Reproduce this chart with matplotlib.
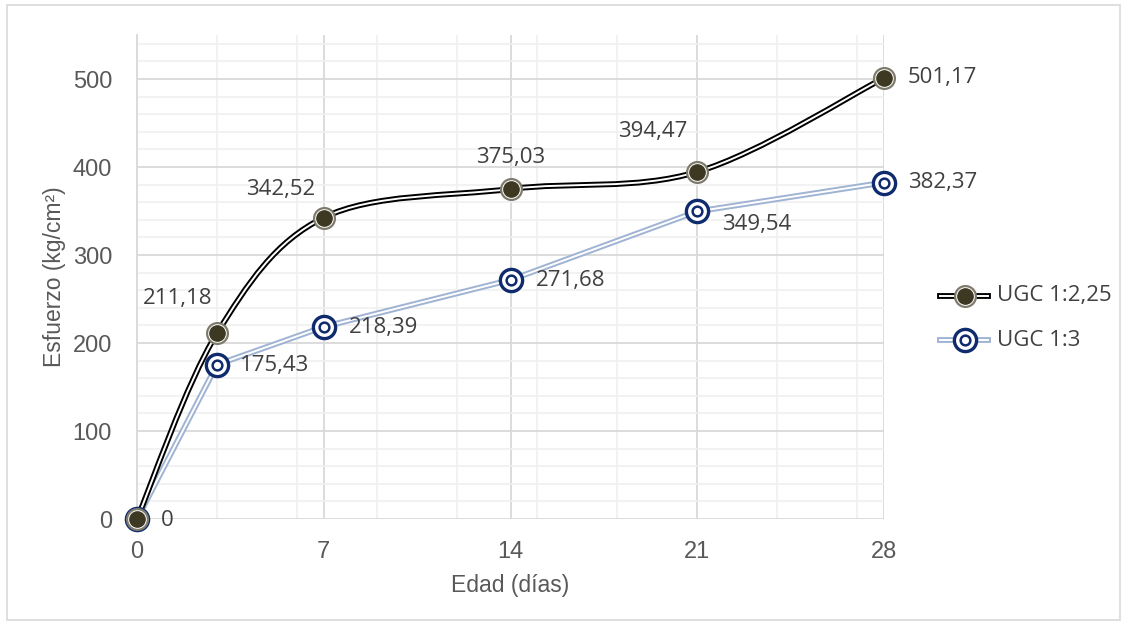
import numpy as np
import matplotlib.pyplot as plt
from matplotlib.path import Path
from matplotlib.patches import PathPatch, Rectangle

dias = [0, 3, 7, 14, 21, 28]
ugc_225 = [0, 211.18, 342.52, 375.03, 394.47, 501.17]
ugc_3 = [0, 175.43, 218.39, 271.68, 349.54, 382.37]
labels_225 = ["", "211,18", "342,52", "375,03", "394,47", "501,17"]
labels_3 = ["0", "175,43", "218,39", "271,68", "349,54", "382,37"]


def smooth_path(x, y):
    """Bezier path through the points, Excel-style smoothed line."""
    pts = np.column_stack([x, y]).astype(float)
    ext = np.vstack([pts[0], pts, pts[-1]])
    verts = [pts[0]]
    codes = [Path.MOVETO]
    for i in range(1, len(ext) - 2):
        p0, p1, p2, p3 = ext[i - 1], ext[i], ext[i + 1], ext[i + 2]
        c1 = p1 + (p2 - p0) / 6.0
        c2 = p2 - (p3 - p1) / 6.0
        verts += [c1, c2, p2]
        codes += [Path.CURVE4] * 3
    return Path(verts, codes)


plt.rcParams["font.family"] = ["Liberation Sans", "DejaVu Sans"]

fig = plt.figure(figsize=(11.28, 6.25), dpi=100)
fig.patches.append(Rectangle((7 / 1128, 5 / 625), 1 - 15 / 1128, 1 - 10 / 625,
                             transform=fig.transFigure, fill=False,
                             edgecolor="#d9d9d9", linewidth=1.2))
ax = fig.add_axes([137 / 1128, 1 - 519 / 625, 747 / 1128, 484 / 625])

ax.set_xlim(0, 28)
ax.set_ylim(0, 550)
ax.set_xticks([0, 7, 14, 21, 28])
ax.set_xticks(np.arange(0, 29, 3), minor=True)
ax.set_yticks(np.arange(0, 501, 100))
ax.set_yticks(np.arange(0, 551, 20), minor=True)
ax.grid(True, which="major", color="#d9d9d9", linewidth=1.3)
ax.grid(True, which="minor", color="#f0f0f0", linewidth=1.2)
ax.set_axisbelow(True)
for s in ["top", "right", "bottom"]:
    ax.spines[s].set_visible(False)
ax.spines["left"].set_color("#d9d9d9")
ax.spines["left"].set_linewidth(1.3)
ax.tick_params(which="both", length=0, labelsize=17, colors="#595959")
ax.tick_params(axis="y", pad=18)
ax.tick_params(axis="x", pad=16)

# UGC 1:3 - straight double blue line
ax.plot(dias, ugc_3, color="#9fb3d3", lw=4.2, zorder=3,
        solid_capstyle="round", clip_on=False)
ax.plot(dias, ugc_3, color="white", lw=1.4, zorder=3,
        solid_capstyle="round", clip_on=False)
ax.plot(dias, ugc_3, ls="none", marker="o", ms=16, mfc="white",
        mec="#0f2b6e", mew=2.4, zorder=5, clip_on=False)
ax.plot(dias, ugc_3, ls="none", marker="o", ms=7, mfc="white",
        mec="#0f2b6e", mew=1.8, zorder=6, clip_on=False)

# UGC 1:2,25 - smoothed double black line
path = smooth_path(dias, ugc_225)
for col, lw in [("black", 4.2), ("white", 1.4)]:
    ax.add_patch(PathPatch(path, fill=False, edgecolor=col, linewidth=lw,
                           zorder=4, capstyle="round", clip_on=False))
ax.plot(dias, ugc_225, ls="none", marker="o", ms=15, mfc="white",
        mec="#7f7b6c", mew=1.6, zorder=7, clip_on=False)
ax.plot(dias, ugc_225, ls="none", marker="o", ms=11, mfc="#3d3822",
        mec="#3d3822", mew=1, zorder=8, clip_on=False)

lab_font = dict(fontsize=16, color="#404040", family=["Open Sans", "DejaVu Sans"])
off_225 = [(0, 0), (-5, 35), (-8, 28), (0, 31), (-10, 40), (24, 0)]
ha_225 = ["left", "right", "right", "center", "right", "left"]
for x, y, t, o, h in zip(dias, ugc_225, labels_225, off_225, ha_225):
    if t:
        ax.annotate(t, (x, y), xytext=o, textcoords="offset pixels",
                    ha=h, va="center", **lab_font)

off_3 = [(24, -1), (23, -1), (25, -1), (25, -1), (25, -13), (24, 0)]
for x, y, t, o in zip(dias, ugc_3, labels_3, off_3):
    ax.annotate(t, (x, y), xytext=o, textcoords="offset pixels",
                ha="left", va="center", **lab_font)

ax.set_xlabel("Edad (días)", fontsize=16.5, color="#595959", labelpad=8)
ax.set_ylabel("Esfuerzo (kg/cm²)", fontsize=16.5, color="#595959", labelpad=5)

# legend drawn as line + marker samples
leg_y = [296, 340]
lx0, lx1, lxm = 940 / 1128, 988 / 1128, 965 / 1128
for i, yy in enumerate(leg_y):
    fy = 1 - yy / 625
    if i == 0:
        fig.add_artist(plt.Line2D([lx0, lx1], [fy, fy], color="black", lw=4.2,
                                  transform=fig.transFigure))
        fig.add_artist(plt.Line2D([lx0, lx1], [fy, fy], color="white", lw=1.4,
                                  transform=fig.transFigure))
        fig.add_artist(plt.Line2D([lxm], [fy], marker="o", ms=15, mfc="white",
                                  mec="#7f7b6c", mew=1.6, transform=fig.transFigure))
        fig.add_artist(plt.Line2D([lxm], [fy], marker="o", ms=11, mfc="#3d3822",
                                  mec="#3d3822", transform=fig.transFigure))
        name = "UGC 1:2,25"
    else:
        fig.add_artist(plt.Line2D([lx0, lx1], [fy, fy], color="#9fb3d3", lw=4.2,
                                  transform=fig.transFigure))
        fig.add_artist(plt.Line2D([lx0, lx1], [fy, fy], color="white", lw=1.4,
                                  transform=fig.transFigure))
        fig.add_artist(plt.Line2D([lxm], [fy], marker="o", ms=16, mfc="white",
                                  mec="#0f2b6e", mew=2.4, transform=fig.transFigure))
        fig.add_artist(plt.Line2D([lxm], [fy], marker="o", ms=7, mfc="white",
                                  mec="#0f2b6e", mew=1.8, transform=fig.transFigure))
        name = "UGC 1:3"
    fig.text(997 / 1128, fy, name, ha="left", va="center", **lab_font)

fig.savefig("out.png", dpi=100)
